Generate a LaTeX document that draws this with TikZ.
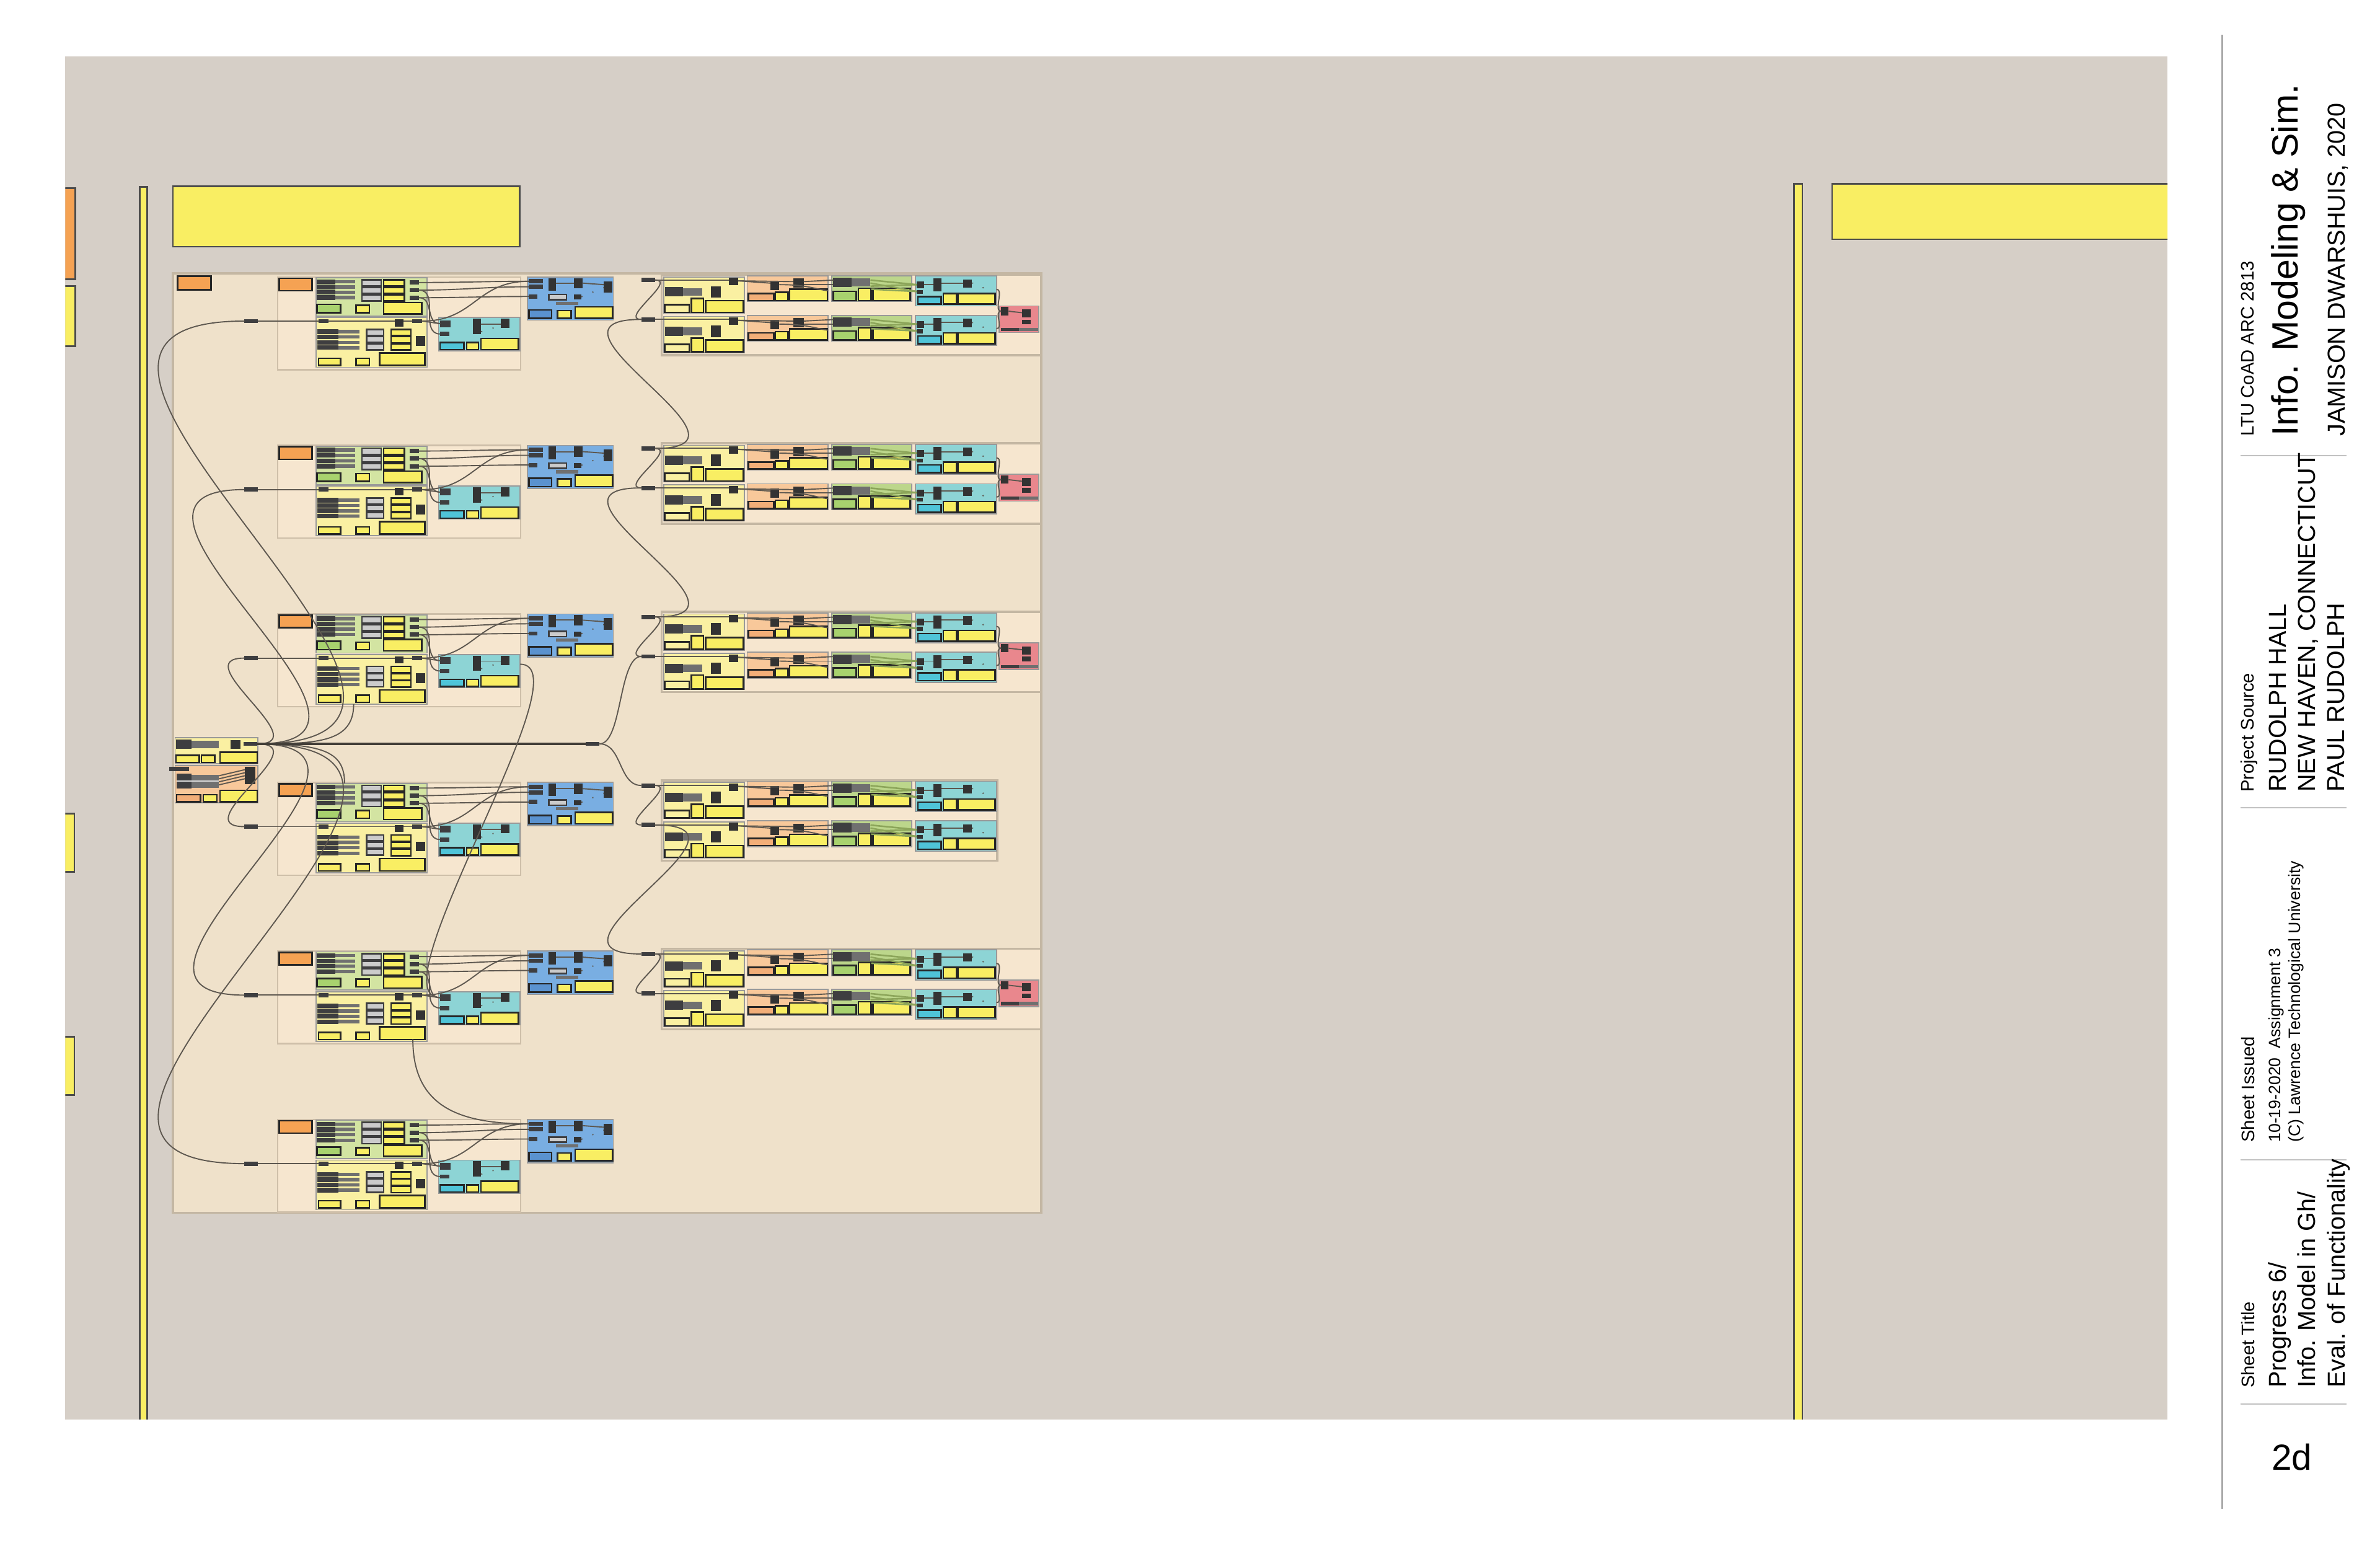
\documentclass[tikz,border=0pt]{standalone}
\usepackage{fontspec}
\setmainfont{Liberation Sans}
\usepackage{tikz}
\usetikzlibrary{positioning,calc}

\definecolor{canvas}{HTML}{D6CFC7}
\definecolor{groupfill}{HTML}{EFE1CA}
\definecolor{groupline}{HTML}{C4B7A3}
\definecolor{subfill}{HTML}{F6E6CF}
\definecolor{subline}{HTML}{CEBFA9}
\definecolor{ghyellow}{HTML}{F9EE63}
\definecolor{paleyellow}{HTML}{FAF0A2}
\definecolor{paleorange}{HTML}{F8C89A}
\definecolor{ghorange}{HTML}{F5A253}
\definecolor{orangepanel}{HTML}{F2AE78}
\definecolor{ghgreen}{HTML}{D3E4A2}
\definecolor{rgreen}{HTML}{BCD68B}
\definecolor{panelgreen}{HTML}{A8D26E}
\definecolor{ghcyan}{HTML}{8DD4D5}
\definecolor{panelcyan}{HTML}{4FC4D8}
\definecolor{ghblue}{HTML}{79AEE2}
\definecolor{panelblue}{HTML}{5A92CF}
\definecolor{ghpink}{HTML}{E9878D}
\definecolor{darkbar}{HTML}{3E3E40}
\definecolor{midbar}{HTML}{707070}
\definecolor{lightbox}{HTML}{CBCBCB}
\definecolor{wirecol}{HTML}{5E5850}
\definecolor{greenwire}{HTML}{8CA55A}
\definecolor{tbline}{HTML}{A8A8A8}

\begin{document}
\begin{tikzpicture}[
    x=0.1mm, y=-0.1mm,
    every node/.style={inner sep=0pt, outer sep=0pt},
    wire/.style={draw=wirecol, line width=0.22pt},
    trunk/.style={draw=wirecol!70!black, line width=0.4pt},
    comp/.style={draw=black!40, line width=0.2pt},
    panel/.style={fill=ghyellow, draw=black!85, line width=0.3pt},
    graybox/.style={fill=lightbox, draw=darkbar, line width=0.3pt},
    blk/.style={fill=black!80},
    stub/.style={rectangle, fill=darkbar, minimum width=0.9mm, minimum height=0.28mm},
    group/.style={fill=groupfill, draw=groupline, line width=0.4pt},
    tb/.style={rotate=90, anchor=base west},
    tbtiny/.style={tb, font=\fontsize{3.1pt}{3.7pt}\selectfont},
    tbsmall/.style={tb, font=\fontsize{3.4pt}{4pt}\selectfont},
    tbmid/.style={tb, font=\fontsize{4.6pt}{5.5pt}\selectfont},
    tblarge/.style={tb, font=\fontsize{6.87pt}{8pt}\selectfont},
    leftmod/.pic={
        \fill[subfill] (0,0) rectangle (160,61);
        \draw[subline, line width=0.3pt] (0,0) rectangle (160,61);
        \node[stub] (-in) at (-17.5,29) {};
        \draw[panel, fill=ghorange] (1,0.8) rectangle (22.5,9);
        % green component
        \draw[comp, fill=ghgreen] (25.2,0.5) rectangle (98.4,25.7);
        \foreach \vv in {1.5,5,8.5,12}{
            \fill[darkbar] (25.8,\vv) rectangle (38,\vv+3);
            \fill[midbar] (38,\vv+0.4) rectangle (51,\vv+2.6);
        }
        \foreach \vv [count=\nn] in {1.8,6.8,11.8}{
            \draw[graybox] (55.4,\vv) rectangle (68.1,\vv+4);
            \draw[panel] (69.7,\vv) rectangle (83.4,\vv+4);
            \node[stub, minimum width=0.6mm] (-g\nn) at (90,\vv+1.8) {};
        }
        \draw[panel, fill=panelgreen] (25.8,18) rectangle (41.4,23.5);
        \draw[panel] (51.6,18.5) rectangle (60.4,23.5);
        \draw[panel] (69.7,16.8) rectangle (94.8,24.3);
        \coordinate (-gtop) at (44,0.5);
        % yellow component
        \draw[comp, fill=paleyellow] (25.2,26.7) rectangle (98.4,59.4);
        \node[stub, minimum width=0.68mm] (-yin) at (30.2,29) {};
        \fill[blk] (77,27.8) rectangle (83,32.6);
        \node[stub, minimum width=0.65mm] (-yout) at (91.8,29) {};
        \foreach \vv in {34.5,38,41.5,45}{
            \fill[darkbar] (26.2,\vv) rectangle (40,\vv+3);
            \fill[midbar] (40,\vv+0.4) rectangle (54,\vv+2.6);
        }
        \foreach \vv in {34.5,39.2,43.9}{
            \draw[graybox] (58.5,\vv) rectangle (69.8,\vv+4);
            \draw[panel] (74.6,\vv) rectangle (87.8,\vv+4.2);
        }
        \fill[blk] (91,39) rectangle (97,45.3);
        \draw[panel] (26.8,53.5) rectangle (41.4,58.2);
        \draw[panel] (51.6,53.5) rectangle (60.4,58.2);
        \draw[panel] (67,50) rectangle (97,58.2);
        \coordinate (-ybot) at (50,59.4);
        \coordinate (-ydown) at (89,58.2);
        % cyan component
        \draw[comp, fill=ghcyan] (105.9,26.7) rectangle (159.6,48.5);
        \node[stub, minimum width=0.7mm, minimum height=0.45mm] (-cin) at (110.5,30.7) {};
        \node[stub, minimum width=0.6mm] (-cin2) at (110,37.5) {};
        \fill[blk] (128.4,27.5) rectangle (134,37.5);
        \fill[blk] (147,27.5) rectangle (152.7,33.5);
        \draw[panel, fill=panelcyan] (107,43) rectangle (122.6,47.8);
        \draw[panel] (124.5,43) rectangle (132.3,47.8);
        \draw[panel] (133.8,40.5) rectangle (158.6,47.8);
        \coordinate (-cout) at (159.6,33);
        \draw[wire] (134,31) -- (147,31);
        \draw[wire, dotted] (134,36) -- (147,32);
        % blue component
        \draw[comp, fill=ghblue] (164.5,-0.1) rectangle (221,28.4);
        \node[stub] (-bin1) at (170,2.8) {};
        \node[stub] (-bin2) at (170,6.4) {};
        \node[stub, minimum width=0.55mm] (-bin3) at (168.2,12.8) {};
        \fill[blk] (178.5,0.7) rectangle (183.4,8.9);
        \fill[blk] (195.1,0.7) rectangle (201,7.5);
        \fill[blk] (214.7,2.7) rectangle (220.6,10.2);
        \draw[graybox] (178.5,11.5) rectangle (190.2,14.9);
        \fill[blk] (195.1,11.5) rectangle (200,14.9);
        \fill[midbar] (183.4,16.2) rectangle (198,18.3);
        \draw[panel, fill=panelblue] (165.4,21.6) rectangle (180.4,27.1);
        \draw[panel] (184.4,22) rectangle (193.2,27.1);
        \draw[panel] (196,19.6) rectangle (220.6,27.1);
        \draw[wire] (183.4,4) -- (195.1,4);
        \draw[wire] (201,4) -- (214.7,5);
        \draw[wire, dotted] (200,13) -- (214.7,7);
        % wires inside the module
        \draw[wire] (-in.east) -- (-yin.west);
        \draw[wire] (-yin.east) -- (77,29);
        \draw[wire] (83,29) -- (-yout.west);
        \draw[wire] (-g1.east) .. controls +(30,0) and +(-30,0) .. (-bin1.west);
        \draw[wire] (-g2.east) .. controls +(30,0) and +(-30,0) .. (-bin2.west);
        \draw[wire] (-g3.east) .. controls +(30,0) and +(-30,0) .. (-bin3.west);
        \draw[wire] (-yout.east) .. controls +(35,0) and +(-35,0) .. (-bin1.west);
        \draw[wire] (-yout.east) -- (-cin.west);
        \draw[wire] (-g2.east) .. controls +(14,0) and +(-14,0) .. (-cin2.west);
        \draw[wire] (-g3.east) .. controls +(10,0) and +(-10,0) .. (-cin.west);
    },
    rhalf/.pic={
        \node[stub] (-in) at (-10,1.9) {};
        % yellow component
        \draw[comp, fill=paleyellow] (0.2,-0.1) rectangle (53.5,23.7);
        \fill[darkbar] (1,6.7) rectangle (13,12.8);
        \fill[midbar] (13,7.2) rectangle (25.6,12.3);
        \fill[blk] (31.5,6) rectangle (37.8,13.5);
        \fill[blk] (43.4,0.5) rectangle (49.3,5.5);
        \draw[panel, fill=paleyellow] (1,18.3) rectangle (17,23.3);
        \draw[panel] (18.5,14.2) rectangle (26.5,23.3);
        \draw[panel] (28,15.5) rectangle (52.7,23.3);
        \coordinate (-k1) at (43.4,1.9);
        % orange component
        \draw[comp, fill=paleorange] (55.2,-0.8) rectangle (108.6,16.2);
        \fill[blk] (70.5,2.3) rectangle (76.4,8.5);
        \fill[blk] (85.7,1) rectangle (92.5,7);
        \draw[panel, fill=orangepanel] (56,10.8) rectangle (72.7,15.5);
        \draw[panel] (73.9,10) rectangle (82.3,15.5);
        \draw[panel] (83.2,8.1) rectangle (108.2,15.5);
        % green component
        \draw[comp, fill=rgreen] (111,-0.8) rectangle (163.6,16.2);
        \fill[darkbar] (112,0.5) rectangle (124,6.7);
        \fill[midbar] (124,0.9) rectangle (136.5,6.3);
        \fill[blk] (131,7) rectangle (137,9);
        \draw[panel, fill=panelgreen] (112,9.5) rectangle (127.2,15.5);
        \draw[panel] (128.5,7.4) rectangle (137,15.5);
        \draw[panel] (138.2,7.4) rectangle (162.7,15.5);
        % cyan component
        \draw[comp, fill=ghcyan] (166.1,-0.8) rectangle (219.5,19);
        \fill[blk] (167,3) rectangle (172,7.5);
        \fill[blk] (167,8.5) rectangle (171,11);
        \fill[blk] (178,1) rectangle (183.4,9.5);
        \fill[blk] (197.4,1.5) rectangle (203.4,7);
        \draw[panel, fill=panelcyan] (167.8,12.8) rectangle (183,17.9);
        \draw[panel] (184.4,10.8) rectangle (193.2,17.9);
        \draw[panel] (194,10.8) rectangle (218.6,17.9);
        \coordinate (-cout) at (219.5,8);
        % wires inside the row
        \draw[wire] (-in.east) -- (-k1);
        \draw[wire] (49.3,2.5) -- (70.5,4);
        \draw[wire] (49.3,2.5) -- (85.7,3);
        \draw[wire] (76.4,5) .. controls (95,5) and (100,8) .. (108.6,9);
        \draw[wire] (92.5,3) -- (112,2);
        \draw[wire] (92.5,5) -- (112,5);
        \draw[greenwire, line width=0.3pt] (136.5,2) -- (167,5);
        \draw[greenwire, line width=0.3pt] (136.5,4) -- (167,9.5);
        \draw[greenwire, line width=0.3pt] (136.5,6) -- (167,5);
        \draw[greenwire, line width=0.3pt] (137,8) -- (167,9.5);
        \draw[wire] (172,5) -- (178,5);
        \draw[wire] (183.4,4) -- (197.4,4);
        \draw[wire, dotted] (203.4,4) .. controls (210,4) and (212,8) .. (212,10.8);
    },
    pinkend/.pic={
        \draw[comp, fill=ghpink] (0,0) rectangle (26.3,17.6);
        \coordinate (-in) at (1.4,3.5);
        \fill[blk] (1.4,0.8) rectangle (6.4,6.2);
        \fill[blk] (15.2,2.2) rectangle (20.9,7.6);
        \fill[blk] (15.2,9) rectangle (20.9,12);
        \fill[darkbar] (1.4,14.5) rectangle (13,16.7);
        \fill[midbar] (13,14.5) rectangle (25.9,16.7);
        \draw[wire] (6.4,3.5) -- (15.2,4.5);
    }
]
% sheet and canvas
\fill[white] (0,0) rectangle (1568,1018);
\useasboundingbox (0,0) rectangle (1568,1018);
\fill[canvas] (43,37) rectangle (1428,935);

\begin{scope}
\clip (43,37) rectangle (1428,935);
% panels cut by the canvas edge
\draw[panel, draw=black!70, fill=ghorange] (38,124) rectangle (49.5,184);
\draw[panel, draw=black!70] (38,188.5) rectangle (49.5,228);
\draw[panel, draw=black!70] (38,536) rectangle (49,574.4);
\draw[panel, draw=black!70] (38,683) rectangle (49,721.4);
\draw[panel, draw=black!70] (92,123) rectangle (97,945);
\draw[panel, draw=black!70] (114,122.7) rectangle (342.5,162.6);
\draw[panel, draw=black!70] (1182,121) rectangle (1187.4,945);
\draw[panel, draw=black!70] (1207,121.1) rectangle (1435,157.6);

% main group
\draw[group] (114,180) rectangle (686,799);
\draw[panel, fill=ghorange] (117,182) rectangle (139,191);

% left column: six modules
\foreach \row [evaluate=\row as \yy using 182.5+111*(\row-1)] in {1,...,6}
    \pic (lm\row) at (183,\yy) {leftmod};

% right column: five rows of two chains
\foreach \row/\xr [evaluate=\row as \yy using 182.5+111*(\row-1)] in {1/686,2/686,3/686,4/657,5/686}{
    \draw[group, fill=subfill] (436,\yy-1.5) rectangle (\xr,\yy+51.5);
    \pic (rga\row) at (437,\yy) {rhalf};
    \pic (rgb\row) at (437,\yy+26) {rhalf};
}
\foreach \row [evaluate=\row as \yy using 182.5+111*(\row-1)] in {1,2,3,5}{
    \pic (pk\row) at (658.1,\yy+19) {pinkend};
    \draw[wire] (rga\row-cout) .. controls +(5,0) and +(-5,0) .. (pk\row-in);
    \draw[wire] (rgb\row-cout) .. controls +(5,0) and +(-5,0) .. (pk\row-in);
}

% hub
\draw[comp, fill=paleyellow] (115.4,486) rectangle (170,503.2);
\fill[darkbar] (116,487.3) rectangle (126,493.4);
\fill[midbar] (126,487.8) rectangle (144.3,492.9);
\fill[blk] (151.8,487.5) rectangle (158.6,493.4);
\node[stub] (hubout) at (165,490) {};
\draw[panel] (116,497.5) rectangle (131.3,502.3);
\draw[panel] (132.7,497.5) rectangle (141.6,502.3);
\draw[panel] (145,495.5) rectangle (169.5,502.5);
\draw[comp, fill=paleorange] (115.4,504.3) rectangle (170,528.8);
\node[stub, minimum width=1.3mm] (hubin) at (118,506.7) {};
\fill[darkbar] (116.4,509.8) rectangle (126,519.3);
\fill[midbar] (126,510.3) rectangle (144.3,518.8);
\draw[black!15, line width=0.2pt] (116.4,514.5) -- (144.3,514.5);
\fill[blk] (161.3,505.3) rectangle (168.1,516.6);
\foreach \vv in {511,513,515,517}
    \draw[wire] (144.3,\vv) -- (161.3,\vv-4);
\draw[panel, fill=orangepanel] (116.4,523.4) rectangle (132,528.1);
\draw[panel] (134,523.4) rectangle (143,528.1);
\draw[panel] (145,520.6) rectangle (169.5,528.1);
\node[stub] (relay) at (390.5,490) {};

% hub to the six modules
\foreach \row/\dd in {1/200,2/121,3/40,4/40,5/119,6/200}
    \draw[wire] (hubout.east) .. controls +(\dd,0) and +(-\dd,0) .. (lm\row-in.west);
\draw[wire] (hubout.east) .. controls +(40,0) and +(0,25) .. (lm3-ybot);
\draw[wire] (hubout.east) .. controls +(45,0) and +(0,-20) .. (lm4-gtop);
\draw[trunk] (hubout.east) -- (relay.west);

% cross wires in the left column
\draw[wire] (lm3-cout) .. controls +(45,0) and +(-45,0) .. (lm5-cin.west);
\draw[wire] (lm5-ydown) .. controls +(0,45) and +(-45,0) .. (lm6-bin1.west);

% relay and chains in the right column
\draw[wire] (relay.east) .. controls +(15,0) and +(-15,0) .. (rgb3-in.west);
\draw[wire] (relay.east) .. controls +(15,0) and +(-15,0) .. (rga4-in.west);
\draw[wire] (rga2-in.east) .. controls +(80,0) and +(-80,0) .. (rgb1-in.west);
\draw[wire] (rga3-in.east) .. controls +(80,0) and +(-80,0) .. (rgb2-in.west);
\draw[wire] (rgb4-in.east) .. controls +(80,0) and +(-80,0) .. (rga5-in.west);
\foreach \row in {1,...,5}
    \draw[wire] (rga\row-in.east) .. controls +(15,0) and +(-15,0) .. (rgb\row-in.west);
\end{scope}

% title block
\draw[tbline, line width=0.4pt] (1464,23) -- (1464,994);
\foreach \yy in {300,532,764,925}
    \draw[tbline!70, line width=0.25pt] (1476,\yy) -- (1546,\yy);
\node[tbsmall] (course) at (1485,287.3) {LTU CoAD ARC 2813};
\node[tblarge] (title) at (1514,287.3) {Info. Modeling \& Sim.};
\node[tbmid] (author) at (1545,287.3) {JAMISON DWARSHUIS, 2020};
\node[tbsmall] (srclabel) at (1485,521.7) {Project Source};
\node[tbmid] (src1) at (1506,521.7) {RUDOLPH HALL};
\node[tbmid] (src2) at (1525.5,521.7) {NEW HAVEN, CONNECTICUT};
\node[tbmid] (src3) at (1544.5,521.7) {PAUL RUDOLPH};
\node[tbsmall] (isslabel) at (1485.5,752.4) {Sheet Issued};
\node[tbtiny] (iss1) at (1502.5,752.4) {10-19-2020\ \ Assignment 3};
\node[tbtiny] (iss2) at (1515.5,752.4) {(C) Lawrence Technological University};
\node[tbsmall] (titlelabel) at (1485.5,914.2) {Sheet Title};
\node[tbmid] (sheet1) at (1506,914.2) {Progress 6/};
\node[tbmid] (sheet2) at (1525.5,914.2) {Info. Model in Gh/};
\node[tbmid] (sheet3) at (1545,914.2) {Eval. of Functionality};
\node[font=\fontsize{6.8pt}{8pt}\selectfont] (sheetno) at (1510,960) {2d};
\end{tikzpicture}
\end{document}
